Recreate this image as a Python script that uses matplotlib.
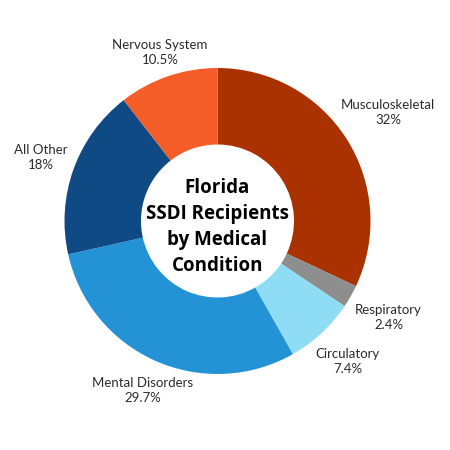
import numpy as np
import matplotlib
matplotlib.use("Agg")
import matplotlib.pyplot as plt

# DATA
categories = ["Musculoskeletal", "Respiratory", "Circulatory", "Mental Disorders", "All Other", "Nervous System"]
shares = [32, 2.4, 7.4, 29.7, 18, 10.5]
share_labels = ["32%", "2.4%", "7.4%", "29.7%", "18%", "10.5%"]
colors = ["#A93200", "#8E8E8E", "#8FDDF5", "#2393D5", "#0F4A85", "#F45D28"]

# label distance from centre (in pie radii)
label_dist = [1.32, 1.285, 1.25, 1.21, 1.225, 1.163]

fig = plt.figure(figsize=(4.5, 4.5), dpi=100)
ax = fig.add_axes([0, 0, 1, 1])

wedges, _ = ax.pie(shares, colors=colors, startangle=90, counterclock=False,
                   radius=1.0, wedgeprops=dict(width=0.5, edgecolor="none"))

for w, name, pct, d in zip(wedges, categories, share_labels, label_dist):
    ang = np.deg2rad((w.theta1 + w.theta2) / 2)
    x, y = d * np.cos(ang), d * np.sin(ang)
    ax.text(x, y, f"{name}\n{pct}", ha="center", va="center", fontsize=9.5,
            family="Lato", color="#2b2b2b", linespacing=1.3)

ax.text(0, -0.042, "Florida\nSSDI Recipients\nby Medical\nCondition", ha="center", va="center",
        fontsize=13.5, fontweight="bold", family="Open Sans", color="black", linespacing=1.4)

# centre at (217.5, 221) px, radius 153 px
R = 153
ax.set_xlim(-217.5 / R, (450 - 217.5) / R)
ax.set_ylim(-(450 - 221) / R, 221 / R)
ax.set_aspect("auto")
ax.axis("off")

fig.savefig("out.png", dpi=100, facecolor="white")
